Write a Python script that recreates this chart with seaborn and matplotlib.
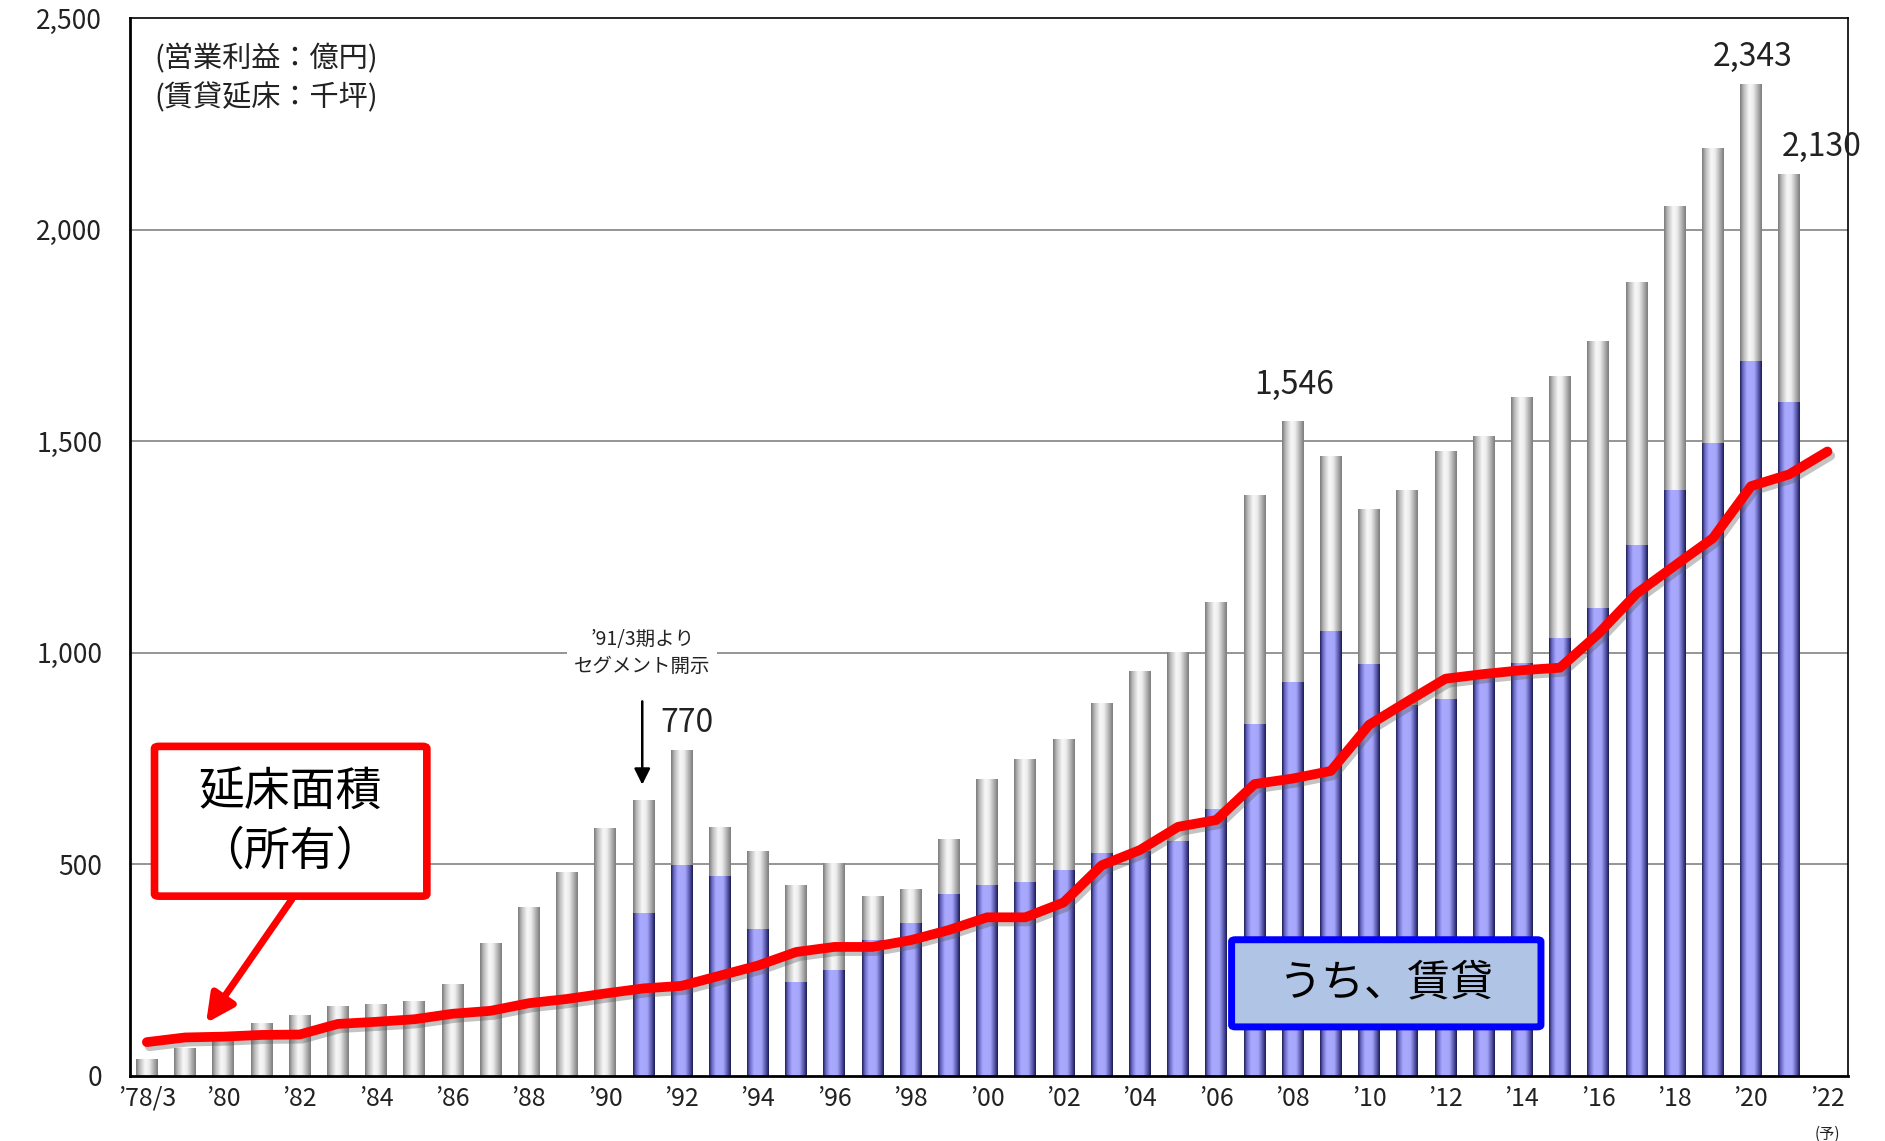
import numpy as np
import pandas as pd
import matplotlib
matplotlib.use('Agg')
import matplotlib.pyplot as plt
import matplotlib.patheffects as pe
from matplotlib.colors import LinearSegmentedColormap
from matplotlib.patches import FancyBboxPatch
import seaborn as sns

# operating profit (億円), fiscal years '78/3 .. '21
bar_years = list(range(1978, 2022))
profit_total = [40, 66, 85, 125, 142, 165, 170, 175, 217, 314,
                399, 480, 586, 650, 770, 587, 531, 451, 502, 425,
                441, 559, 701, 747, 796, 880, 955, 1000, 1119, 1372,
                1546, 1465, 1338, 1385, 1475, 1511, 1604, 1653, 1735, 1876,
                2055, 2192, 2343, 2130]

# leasing segment profit, disclosed from '91/3
lease_years = list(range(1991, 2022))
profit_lease = [385, 498, 471, 347, 222, 250, 321, 361, 430, 450,
                457, 485, 527, 530, 555, 629, 830, 930, 1050, 972,
                875, 891, 945, 975, 1035, 1105, 1253, 1385, 1495, 1688,
                1591]

# owned floor area (千坪), '78/3 .. '22 forecast
line_years = list(range(1978, 2023))
floor_area = [80, 91, 93, 97, 98, 123, 128, 134, 147, 154,
              172, 182, 195, 207, 213, 237, 261, 293, 305, 305,
              321, 345, 375, 375, 410, 498, 534, 589, 605, 690,
              703, 721, 830, 885, 939, 950, 959, 965, 1045, 1140,
              1206, 1271, 1394, 1422, 1476]

tick_years = list(range(1978, 2023, 2))
tick_labels = ["’78/3"] + ["’%02d" % (y % 100) for y in tick_years[1:]]

sns.set_theme(style='white')
plt.rcParams['font.family'] = ['Noto Sans CJK JP', 'DejaVu Sans']

fig = plt.figure(figsize=(18.85, 11.41), dpi=100)
ax = fig.add_axes([0.069, 0.057, 0.9114, 0.927])

df_total = pd.DataFrame({'year': bar_years, 'profit': profit_total})
df_lease = pd.DataFrame({'year': lease_years, 'profit': profit_lease})

sns.barplot(data=df_total, x='year', y='profit', native_scale=True, width=0.57,
            color='#cccccc', errorbar=None, ax=ax)
n_gray = len(ax.patches)
sns.barplot(data=df_lease, x='year', y='profit', native_scale=True, width=0.57,
            color='#a8a8ff', errorbar=None, ax=ax)

gray_cmap = LinearSegmentedColormap.from_list('g', [
    (0, '#7a7a7a'), (0.15, '#b8b8b8'), (0.42, '#f8f8f8'), (0.6, '#ededed'),
    (0.85, '#a8a8a8'), (1, '#7c7c7c')])
blue_cmap = LinearSegmentedColormap.from_list('b', [
    (0, '#1c1c52'), (0.12, '#6868c4'), (0.32, '#a9a9ff'), (0.65, '#a6a6fa'),
    (0.86, '#5656aa'), (1, '#1a1a4e')])
grad = np.linspace(0, 1, 64).reshape(1, -1)


def shade(patches, cmap, z):
    for p in patches:
        x, y = p.get_x(), p.get_y()
        w, h = p.get_width(), p.get_height()
        ax.imshow(grad, extent=[x, x + w, y, y + h], cmap=cmap, aspect='auto',
                  interpolation='bicubic', zorder=z)
        p.set_visible(False)


patches = list(ax.patches)
shade(patches[:n_gray], gray_cmap, 2)
shade(patches[n_gray:], blue_cmap, 2.2)

# floor area line
sns.lineplot(x=line_years, y=floor_area, color='#ff0000', linewidth=7, ax=ax)
ln = ax.lines[-1]
ln.set_zorder(4)
ln.set_solid_joinstyle('round')
ln.set_solid_capstyle('round')
ln.set_path_effects([pe.SimpleLineShadow(offset=(2, -3), alpha=0.35, shadow_color='#555555'),
                     pe.Normal()])

ax.set_xlim(1977.56, 2022.54)
ax.set_ylim(0, 2500)
ax.set_aspect('auto')
ax.set_xlabel('')
ax.set_ylabel('')

ax.set_yticks([0, 500, 1000, 1500, 2000, 2500])
ax.set_yticklabels(['0', '500', '1,000', '1,500', '2,000', '2,500'])
ax.set_xticks(tick_years)
ax.set_xticklabels(tick_labels)
ax.tick_params(axis='y', length=0, pad=20, labelsize=19, labelcolor='#222222')
ax.tick_params(axis='x', length=0, pad=7, labelsize=18, labelcolor='#222222')

for yv in [500, 1000, 1500, 2000]:
    ax.axhline(yv, color='#8c8c8c', lw=1.3, zorder=1)

for s in ['left', 'bottom']:
    ax.spines[s].set_linewidth(2)
    ax.spines[s].set_color('black')
for s in ['top', 'right']:
    ax.spines[s].set_linewidth(1.2)
    ax.spines[s].set_color('black')

# units
ax.text(1978.2, 2357, '(営業利益：億円)\n(賃貸延床：千坪)', fontsize=21, color='#222222',
        va='center', ha='left', linespacing=1.4, zorder=5)

# value labels
lab = dict(fontsize=23, ha='center', va='center', color='#222222')
ax.text(2020.05, 2409, '2,343', **lab)
ax.text(2021.85, 2196, '2,130', **lab)
ax.text(2008.03, 1633, '1,546', **lab)
ax.text(1992.15, 835, '770', **lab)

# segment disclosure note
ax.text(1990.97, 1000, '’91/3期より\nセグメント開示', fontsize=14, ha='center', va='center',
        color='#222222', linespacing=1.35,
        bbox=dict(boxstyle='square', fc='white', ec='none', pad=0.35), zorder=3)
ax.annotate('', xy=(1990.97, 682), xytext=(1990.97, 892),
            arrowprops=dict(arrowstyle='-|>', color='black', lw=1.8, mutation_scale=24),
            zorder=5)

# red callout box
ax.add_patch(FancyBboxPatch((1978.2, 425), 7.13, 354, boxstyle='round,pad=0,rounding_size=0.12',
                            fc='white', ec='#ff0000', lw=5.5, zorder=6,
                            mutation_aspect=45))
ax.text(1981.75, 602, '延床面積\n（所有）', fontsize=33, ha='center', va='center',
        color='black', linespacing=1.3, zorder=7)
ax.annotate('', xy=(1979.55, 125), xytext=(1981.8, 418),
            arrowprops=dict(arrowstyle='-|>', color='#ff0000', lw=5, mutation_scale=42,
                            shrinkA=0, shrinkB=0),
            zorder=6)

# blue callout box
ax.add_patch(FancyBboxPatch((2006.4, 116), 8.1, 206, boxstyle='round,pad=0,rounding_size=0.1',
                            fc='#b0c4e6', ec='#0000ff', lw=5, zorder=6, mutation_aspect=45))
ax.text(2010.45, 219, 'うち、賃貸', fontsize=31, ha='center', va='center', color='black', zorder=7)

# forecast mark under '22
ax.text(2022, -0.055, '(予)', fontsize=11, ha='center', va='center', color='#222222',
        transform=ax.get_xaxis_transform())

fig.savefig('out.png', dpi=100)
